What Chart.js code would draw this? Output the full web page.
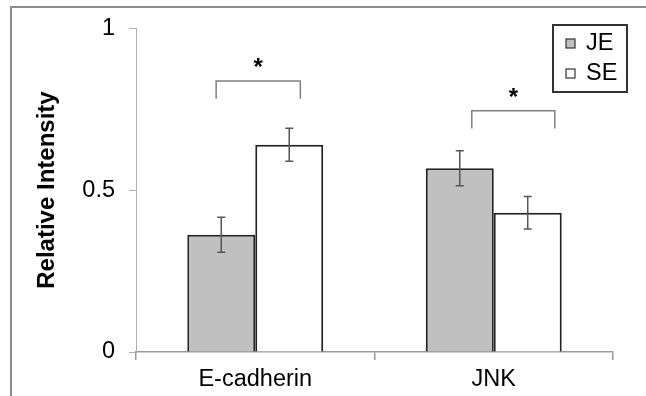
<!DOCTYPE html>
<html>
<head>
<meta charset="utf-8">
<script src="https://cdn.jsdelivr.net/npm/chart.js@4.4.1/dist/chart.umd.min.js"></script>
<style>
  html, body { margin: 0; padding: 0; background: #fff; }
  #wrap { width: 646px; height: 396px; }
</style>
</head>
<body>
<div id="wrap"><canvas id="chart" width="646" height="396"></canvas></div>
<script>
const categories = ['E-cadherin', 'JNK']
const seriesNames = ['JE', 'SE']
const jeValues = [0.362, 0.567]
const seValues = [0.640, 0.430]
const jeErrors = [0.054, 0.054]
const seErrors = [0.051, 0.050]
const yTicks = [0, 0.5, 1]
const bracketTops = [0.837, 0.745]
const bracketFeet = [0.782, 0.690]
const bracketLabels = ['*', '*']

const FONT = '"Liberation Sans", Arial, sans-serif'
const seriesFill = ['#c0c0c0', '#ffffff']

Chart.defaults.font.family = FONT
Chart.defaults.color = '#000'

// outer picture frame
const framePlugin = {
  id: 'frame',
  beforeDraw(chart) {
    const ctx = chart.ctx
    ctx.save()
    ctx.strokeStyle = '#8c8c8c'
    ctx.lineWidth = 2
    ctx.beginPath()
    ctx.moveTo(11, 396)
    ctx.lineTo(11, 7)
    ctx.lineTo(646, 7)
    ctx.stroke()
    ctx.restore()
  }
}

const errorBarPlugin = {
  id: 'errorBars',
  afterDatasetsDraw(chart) {
    const ctx = chart.ctx
    const y = chart.scales.y
    const errs = [jeErrors, seErrors]
    ctx.save()
    ctx.strokeStyle = '#555'
    ctx.lineWidth = 1.5
    chart.data.datasets.forEach((ds, di) => {
      const meta = chart.getDatasetMeta(di)
      meta.data.forEach((bar, i) => {
        const v = ds.data[i]
        const top = y.getPixelForValue(v + errs[di][i])
        const bot = y.getPixelForValue(v - errs[di][i])
        ctx.beginPath()
        ctx.moveTo(bar.x, top); ctx.lineTo(bar.x, bot)
        ctx.moveTo(bar.x - 4, top); ctx.lineTo(bar.x + 4, top)
        ctx.moveTo(bar.x - 4, bot); ctx.lineTo(bar.x + 4, bot)
        ctx.stroke()
      })
    })
    ctx.restore()
  }
}

// significance brackets, spans given as fraction of a category width
const bracketSpans = [[-0.164, 0.189], [-0.092, 0.256]]
const bracketPlugin = {
  id: 'brackets',
  afterDatasetsDraw(chart) {
    const ctx = chart.ctx
    const x = chart.scales.x
    const y = chart.scales.y
    const step = x.getPixelForValue(1) - x.getPixelForValue(0)
    ctx.save()
    categories.forEach((c, i) => {
      const cx = x.getPixelForValue(i)
      const x0 = cx + bracketSpans[i][0] * step
      const x1 = cx + bracketSpans[i][1] * step
      const yt = y.getPixelForValue(bracketTops[i])
      const yb = y.getPixelForValue(bracketFeet[i])
      ctx.strokeStyle = '#808080'
      ctx.lineWidth = 1.5
      ctx.beginPath()
      ctx.moveTo(x0, yb); ctx.lineTo(x0, yt); ctx.lineTo(x1, yt); ctx.lineTo(x1, yb)
      ctx.stroke()
      ctx.fillStyle = '#000'
      ctx.font = 'bold 24px ' + FONT
      ctx.textAlign = 'center'
      ctx.textBaseline = 'alphabetic'
      ctx.fillText(bracketLabels[i], (x0 + x1) / 2, yt - 6)
    })
    ctx.restore()
  }
}

const legendPlugin = {
  id: 'boxLegend',
  afterDraw(chart) {
    const ctx = chart.ctx
    ctx.save()
    ctx.strokeStyle = '#333'
    ctx.lineWidth = 2
    ctx.strokeRect(553, 25, 74, 67)
    ctx.font = '23.5px ' + FONT
    ctx.textAlign = 'left'
    ctx.textBaseline = 'middle'
    seriesNames.forEach((name, i) => {
      const cy = 43 + i * 30
      ctx.fillStyle = seriesFill[i]
      ctx.fillRect(566, cy - 4, 9, 9)
      ctx.strokeStyle = '#333'
      ctx.lineWidth = 1.2
      ctx.strokeRect(566, cy - 4, 9, 9)
      ctx.fillStyle = '#000'
      ctx.fillText(name, 586, cy + 1)
    })
    ctx.restore()
  }
}

new Chart(document.getElementById('chart'), {
  type: 'bar',
  data: {
    labels: categories,
    datasets: [{
      label: seriesNames[0],
      data: jeValues,
      backgroundColor: seriesFill[0],
      borderColor: '#222',
      borderWidth: 2,
    }, {
      label: seriesNames[1],
      data: seValues,
      backgroundColor: seriesFill[1],
      borderColor: '#222',
      borderWidth: 2,
    }]
  },
  options: {
    responsive: false,
    animation: false,
    layout: { padding: { left: 0, right: 33, top: 26, bottom: 0 } },
    datasets: { bar: { categoryPercentage: 0.57, barPercentage: 1 } },
    plugins: { legend: { display: false }, tooltip: { enabled: false } },
    scales: {
      x: {
        grid: { drawOnChartArea: false, color: '#999', tickLength: 8, lineWidth: 1.5 },
        border: { color: '#999', width: 1.5 },
        ticks: { font: { size: 23.5 }, padding: 5, color: '#000' },
        afterFit: (s) => { s.height = 44 }
      },
      y: {
        min: 0,
        max: 1,
        afterBuildTicks: (s) => { s.ticks = yTicks.map(v => ({ value: v })) },
        grid: { drawOnChartArea: false, color: '#b0b0b0', tickLength: 7 },
        border: { color: '#b0b0b0' },
        ticks: { font: { size: 23.5 }, padding: 14, color: '#000', callback: (v) => String(v) },
        title: {
          display: true,
          text: 'Relative Intensity',
          font: { size: 24, weight: 'bold', lineHeight: 1 },
          padding: { top: 35, bottom: 0 },
          color: '#000'
        },
        afterFit: (s) => { s.width = 136 }
      }
    }
  },
  plugins: [framePlugin, errorBarPlugin, bracketPlugin, legendPlugin]
})
</script>
</body>
</html>
